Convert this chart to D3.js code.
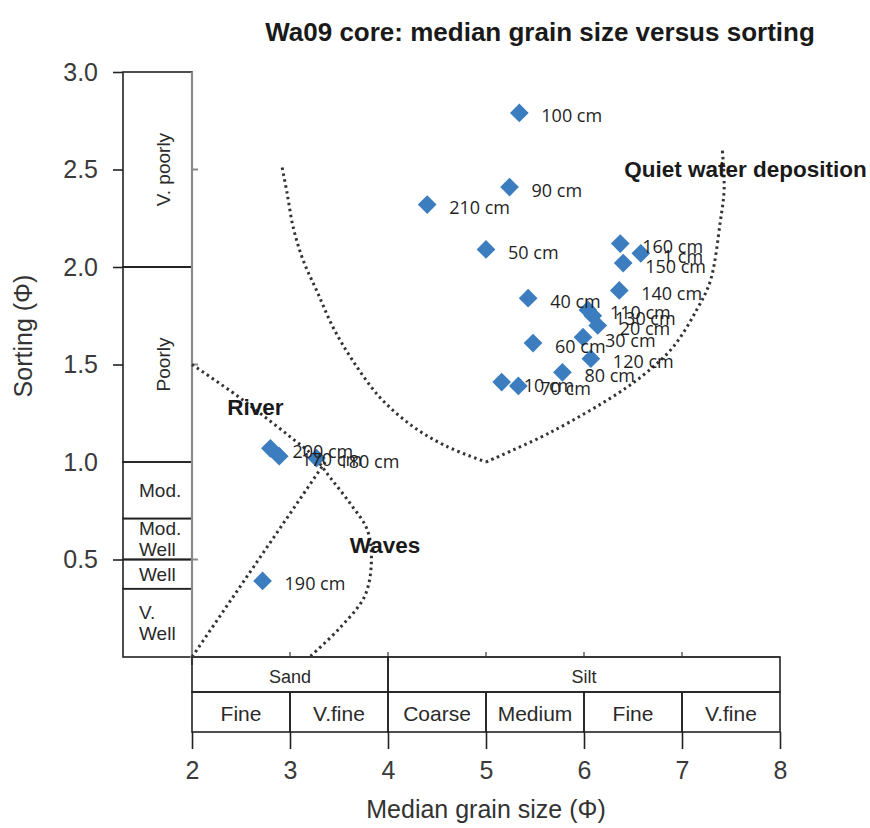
<!DOCTYPE html>
<html>
<head>
<meta charset="utf-8">
<script src="https://cdn.jsdelivr.net/npm/d3@7"></script>
<style>
  body { margin: 0; background: #fff; }
  svg { display: block; }
</style>
</head>
<body>
<svg id="chart" width="870" height="828"></svg>
<script>
// ---- Samples: depth, median grain size (phi), sorting (phi) ----
const depths = ["100 cm", "90 cm", "210 cm", "50 cm", "160 cm", "1 cm", "150 cm", "140 cm",
  "40 cm", "110 cm", "130 cm", "20 cm", "30 cm", "60 cm", "120 cm", "80 cm", "10 cm", "70 cm",
  "200 cm", "170 cm", "180 cm", "190 cm"];
const medianPhi = [5.34, 5.24, 4.40, 5.00, 6.37, 6.58, 6.40, 6.36,
  5.43, 6.04, 6.09, 6.14, 5.99, 5.48, 6.07, 5.78, 5.16, 5.33,
  2.80, 2.89, 3.27, 2.72];
const sortingPhi = [2.79, 2.41, 2.32, 2.09, 2.12, 2.07, 2.02, 1.88,
  1.84, 1.78, 1.75, 1.70, 1.64, 1.61, 1.53, 1.46, 1.41, 1.39,
  1.07, 1.03, 1.02, 0.39];

// ---- Axes ----
const sortingTicks = [0.5, 1.0, 1.5, 2.0, 2.5, 3.0];
const grainTicks = [2, 3, 4, 5, 6, 7, 8];

// ---- Folk sorting classes (upper bound, lower bound, label lines) ----
const sortingClassBounds = [[3.0, 2.0], [2.0, 1.0], [1.0, 0.71], [0.71, 0.5], [0.5, 0.35], [0.35, 0]];
const sortingClassNames = [["V. poorly"], ["Poorly"], ["Mod."], ["Mod.", "Well"], ["Well"], ["V.", "Well"]];

// ---- Wentworth size classes ----
const sizeGroupBounds = [[2, 4], [4, 8]];
const sizeGroupNames = ["Sand", "Silt"];
const sizeClassBounds = [[2, 3], [3, 4], [4, 5], [5, 6], [6, 7], [7, 8]];
const sizeClassNames = ["Fine", "V.fine", "Coarse", "Medium", "Fine", "V.fine"];

// ---- Depositional field boundaries (median phi, sorting phi) ----
const quietLeft = [[2.92, 2.51], [2.97, 2.38], [3.03, 2.21], [3.13, 2.04], [3.28, 1.87], [3.44, 1.69],
  [3.64, 1.52], [3.92, 1.33], [4.26, 1.18], [4.60, 1.08], [5.00, 1.00]];
const quietRight = [[5.00, 1.00], [5.65, 1.15], [6.34, 1.35], [6.64, 1.46], [6.91, 1.59], [7.15, 1.78],
  [7.29, 1.93], [7.39, 2.23], [7.43, 2.40], [7.41, 2.61]];
const riverUpper = [[2.00, 1.50], [2.46, 1.34], [2.72, 1.24], [3.00, 1.13], [3.24, 1.03], [3.41, 0.92],
  [3.61, 0.79], [3.79, 0.65], [3.83, 0.48], [3.76, 0.31], [3.51, 0.15], [3.20, 0.0]];
const riverLower = [[2.00, 0.0], [3.36, 1.00]];

const fieldNames = ["River", "Waves", "Quiet water deposition"];
const fieldAnchors = [[2.36, 1.24], [3.61, 0.535], [6.41, 2.46]];

// ---- Drawing ----
const svg = d3.select("#chart");
const x = d3.scaleLinear().domain([2, 8]).range([192, 780]);
const y = d3.scaleLinear().domain([0, 3]).range([657, 72]);

const boxLeft = 123, boxRight = x(2);
const axisFont = "'Liberation Sans', Arial, sans-serif";
const labelFont = "'Open Sans', 'Noto Sans', sans-serif";

// Title
svg.append("text")
  .attr("x", 540).attr("y", 41)
  .attr("text-anchor", "middle")
  .attr("font-family", axisFont).attr("font-weight", "bold")
  .attr("font-size", 26).attr("fill", "#1a1a1a")
  .text("Wa09 core: median grain size versus sorting");

// Sorting class column
const classG = svg.append("g");
classG.selectAll("rect").data(sortingClassBounds).join("rect")
  .attr("x", boxLeft).attr("width", boxRight - boxLeft)
  .attr("y", d => y(d[0])).attr("height", d => y(d[1]) - y(d[0]))
  .attr("fill", "none").attr("stroke", "#222").attr("stroke-width", 1.6);

sortingClassBounds.forEach((b, i) => {
  const names = sortingClassNames[i];
  const cy = (y(b[0]) + y(b[1])) / 2;
  if (b[0] - b[1] >= 1) {
    classG.append("text")
      .attr("transform", `translate(${(boxLeft + boxRight) / 2 + 6},${cy}) rotate(-90)`)
      .attr("text-anchor", "middle").attr("dy", "0.35em")
      .attr("font-family", axisFont).attr("font-size", 19).attr("fill", "#2a2a2a")
      .text(names[0]);
  } else {
    const lh = 21;
    names.forEach((n, j) => {
      classG.append("text")
        .attr("x", 139)
        .attr("y", cy + (j - (names.length - 1) / 2) * lh)
        .attr("dy", "0.35em")
        .attr("font-family", axisFont).attr("font-size", 19).attr("fill", "#2a2a2a")
        .text(n);
    });
  }
});

// Left axis: ticks and labels
const yAxis = d3.axisLeft(y).tickValues(sortingTicks).tickFormat(d3.format(".1f"))
  .tickSize(10).tickPadding(15).tickSizeOuter(0);
const yAxisG = svg.append("g").attr("transform", `translate(${boxLeft},0)`).call(yAxis);
yAxisG.select(".domain").remove();
yAxisG.selectAll(".tick line").attr("stroke", "#222").attr("stroke-width", 1.6)
  .attr("opacity", d => d === 1.0 ? 0 : 1);
yAxisG.selectAll(".tick text")
  .attr("font-family", axisFont).attr("font-size", 25).attr("fill", "#3a3a3a");
// 0.5 and 2.0 rules run across the column
svg.selectAll("line.classRule").data([0.5, 2.0]).join("line").attr("class", "classRule")
  .attr("x1", boxLeft).attr("x2", boxRight)
  .attr("y1", d => y(d)).attr("y2", d => y(d))
  .attr("stroke", "#222").attr("stroke-width", 1.6);

// Plot axes (gray) with small inner ticks
svg.append("line").attr("x1", x(2)).attr("x2", x(2)).attr("y1", y(3)).attr("y2", y(0) + 8)
  .attr("stroke", "#8a8a8a").attr("stroke-width", 2.2);
svg.append("line").attr("x1", x(2) - 2).attr("x2", x(8)).attr("y1", y(0)).attr("y2", y(0))
  .attr("stroke", "#8a8a8a").attr("stroke-width", 2.2);
svg.selectAll("line.yIn").data([0.5, 1.5, 2.5]).join("line").attr("class", "yIn")
  .attr("x1", x(2)).attr("x2", x(2) + 6).attr("y1", d => y(d)).attr("y2", d => y(d))
  .attr("stroke", "#8a8a8a").attr("stroke-width", 2);
svg.selectAll("line.xIn").data([3, 4, 5, 6, 7]).join("line").attr("class", "xIn")
  .attr("x1", d => x(d)).attr("x2", d => x(d)).attr("y1", y(0)).attr("y2", y(0) - 5)
  .attr("stroke", "#8a8a8a").attr("stroke-width", 2);

// Size class table under the plot
const row1Top = 657, row1Bot = 692, row2Bot = 732;
const tableG = svg.append("g");
tableG.selectAll("rect.grp").data(sizeGroupBounds).join("rect").attr("class", "grp")
  .attr("x", d => x(d[0])).attr("width", d => x(d[1]) - x(d[0]))
  .attr("y", row1Top).attr("height", row1Bot - row1Top)
  .attr("fill", "none").attr("stroke", "#222").attr("stroke-width", 1.6);
tableG.selectAll("rect.cls").data(sizeClassBounds).join("rect").attr("class", "cls")
  .attr("x", d => x(d[0])).attr("width", d => x(d[1]) - x(d[0]))
  .attr("y", row1Bot).attr("height", row2Bot - row1Bot)
  .attr("fill", "none").attr("stroke", "#222").attr("stroke-width", 1.6);
tableG.selectAll("text.grp").data(sizeGroupBounds).join("text").attr("class", "grp")
  .attr("x", d => (x(d[0]) + x(d[1])) / 2).attr("y", (row1Top + row1Bot) / 2 + 2)
  .attr("dy", "0.35em").attr("text-anchor", "middle")
  .attr("font-family", axisFont).attr("font-size", 18).attr("fill", "#2a2a2a")
  .text((d, i) => sizeGroupNames[i]);
tableG.selectAll("text.cls").data(sizeClassBounds).join("text").attr("class", "cls")
  .attr("x", d => (x(d[0]) + x(d[1])) / 2).attr("y", (row1Bot + row2Bot) / 2 + 2)
  .attr("dy", "0.35em").attr("text-anchor", "middle")
  .attr("font-family", axisFont).attr("font-size", 21).attr("fill", "#2a2a2a")
  .text((d, i) => sizeClassNames[i]);

// Bottom axis
const xAxis = d3.axisBottom(x).tickValues(grainTicks).tickFormat(d3.format("d"))
  .tickSize(17).tickPadding(12).tickSizeOuter(0);
const xAxisG = svg.append("g").attr("transform", `translate(0,${row2Bot})`).call(xAxis);
xAxisG.select(".domain").remove();
xAxisG.selectAll(".tick line").attr("stroke", "#222").attr("stroke-width", 1.6);
xAxisG.selectAll(".tick text")
  .attr("font-family", axisFont).attr("font-size", 25).attr("fill", "#3a3a3a");

// Axis titles
svg.append("text").attr("x", 486).attr("y", 818).attr("text-anchor", "middle")
  .attr("font-family", axisFont).attr("font-size", 25).attr("fill", "#333")
  .text("Median grain size (Φ)");
svg.append("text").attr("transform", "translate(32,336) rotate(-90)").attr("text-anchor", "middle")
  .attr("font-family", axisFont).attr("font-size", 25).attr("fill", "#333")
  .text("Sorting (Φ)");

// Field boundaries (dotted)
const line = d3.line().x(d => x(d[0])).y(d => y(d[1])).curve(d3.curveCatmullRom.alpha(0.5));
const straight = d3.line().x(d => x(d[0])).y(d => y(d[1]));
const fieldG = svg.append("g").attr("fill", "none").attr("stroke", "#333")
  .attr("stroke-width", 3).attr("stroke-dasharray", "2.5,3.5");
[quietLeft, quietRight, riverUpper].forEach(c => fieldG.append("path").attr("d", line(c)));
fieldG.append("path").attr("d", straight(riverLower));

// Field names
svg.selectAll("text.field").data(fieldAnchors).join("text").attr("class", "field")
  .attr("x", d => x(d[0])).attr("y", d => y(d[1]))
  .attr("font-family", axisFont).attr("font-weight", "bold").attr("font-size", 22.5)
  .attr("fill", "#1a1a1a")
  .text((d, i) => fieldNames[i]);

// Samples
const samples = depths.map((d, i) => ({ depth: d, phi: medianPhi[i], sort: sortingPhi[i] }));
const diamond = d3.symbol().type(d3.symbolSquare).size(175);
svg.append("g").selectAll("path").data(samples).join("path")
  .attr("transform", d => `translate(${x(d.phi)},${y(d.sort)}) rotate(45)`)
  .attr("d", diamond).attr("fill", "#3b7dbf");
svg.append("g").selectAll("text").data(samples).join("text")
  .attr("x", d => x(d.phi) + 22).attr("y", d => y(d.sort) + 9.5)
  .attr("font-family", labelFont).attr("font-size", 18).attr("fill", "#1f1f1f")
  .text(d => d.depth);
</script>
</body>
</html>
